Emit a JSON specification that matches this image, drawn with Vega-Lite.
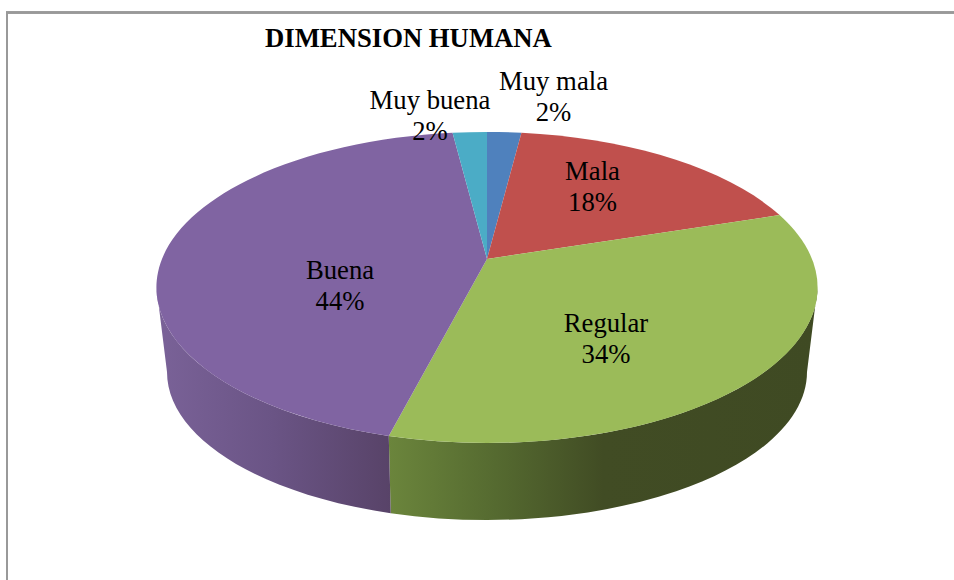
{
  "$schema": "https://vega.github.io/schema/vega-lite/v6.json",
  "width": 954,
  "height": 580,
  "autosize": "none",
  "padding": 0,
  "background": "white",
  "view": {"stroke": null},
  "title": {
    "text": "DIMENSION HUMANA",
    "anchor": "start",
    "frame": "group",
    "font": "Liberation Serif",
    "fontSize": 26.7,
    "fontWeight": "bold",
    "color": "black",
    "baseline": "alphabetic",
    "offset": 0,
    "dx": 265,
    "dy": 74
  },
  "data": {
    "values": [
      {"orden": 1, "categoria": "Muy mala", "valor": 2},
      {"orden": 2, "categoria": "Mala", "valor": 18},
      {"orden": 3, "categoria": "Regular", "valor": 34},
      {"orden": 4, "categoria": "Buena", "valor": 44},
      {"orden": 5, "categoria": "Muy buena", "valor": 2}
    ]
  },
  "transform": [
    {"window": [{"op": "sum", "field": "valor", "as": "fin"}], "sort": [{"field": "orden", "order": "ascending"}]},
    {"joinaggregate": [{"op": "sum", "field": "valor", "as": "total"}]},
    {"calculate": "2*PI*(datum.fin-datum.valor)/datum.total", "as": "a0"},
    {"calculate": "2*PI*datum.fin/datum.total", "as": "a1"},
    {"calculate": "round(100*(10+325*sin(datum.a0)/(1+0.183*cos(datum.a0))))/100", "as": "x0"},
    {"calculate": "round(100*(-31-150.3*cos(datum.a0)/(1+0.183*cos(datum.a0))))/100", "as": "y0"},
    {"calculate": "round(100*(10+325*sin(datum.a1)/(1+0.183*cos(datum.a1))))/100", "as": "x1"},
    {"calculate": "round(100*(-31-150.3*cos(datum.a1)/(1+0.183*cos(datum.a1))))/100", "as": "y1"},
    {"calculate": "round(100*(10+(datum.x0-10)*0.98))/100", "as": "bx0"},
    {"calculate": "round(100*(82+148*sqrt(max(0,1-pow((datum.bx0-10)/320,2)))))/100", "as": "by0"},
    {"calculate": "round(100*(10+(datum.x1-10)*0.98))/100", "as": "bx1"},
    {"calculate": "round(100*(82+148*sqrt(max(0,1-pow((datum.bx1-10)/320,2)))))/100", "as": "by1"},
    {"calculate": "'M10,-31 L'+datum.x0+','+datum.y0+' A330.5,155.5 0 0 1 '+datum.x1+','+datum.y1+' Z'", "as": "cara"},
    {"calculate": "'M340.5,-2.5 A330.5,155.5 0 0 1 '+datum.x1+','+datum.y1+' L'+datum.bx1+','+datum.by1+' A320,148 0 0 0 330,82 Z'", "as": "paredDerecha"},
    {"calculate": "'M'+datum.x0+','+datum.y0+' A330.5,155.5 0 0 1 -320.5,-2.5 L-310,82 A320,148 0 0 0 '+datum.bx0+','+datum.by0+' Z'", "as": "paredIzquierda"},
    {"calculate": "datum.categoria+'\\n'+datum.valor+'%'", "as": "etiqueta"}
  ],
  "layer": [
    {
      "mark": {"type": "rect", "fill": null, "stroke": "#999999", "strokeWidth": 2},
      "encoding": {
        "x": {"value": 7},
        "x2": {"value": 970},
        "y": {"value": 12.5},
        "y2": {"value": 600}
      }
    },
    {
      "transform": [{"filter": "datum.categoria==='Regular'"}],
      "mark": {
        "type": "point",
        "filled": true,
        "opacity": 1,
        "size": 4,
        "strokeWidth": 0,
        "fill": {
          "gradient": "linear", "x1": 0, "y1": 0, "x2": 1, "y2": 0,
          "stops": [
            {"offset": 0, "color": "#6b853c"},
            {"offset": 0.25, "color": "#556a30"},
            {"offset": 0.5, "color": "#414c24"},
            {"offset": 1, "color": "#3f4a23"}
          ]
        }
      },
      "encoding": {"shape": {"field": "paredDerecha", "type": "nominal", "scale": null, "legend": null}}
    },
    {
      "transform": [{"filter": "datum.categoria==='Buena'"}],
      "mark": {
        "type": "point",
        "filled": true,
        "opacity": 1,
        "size": 4,
        "strokeWidth": 0,
        "fill": {
          "gradient": "linear", "x1": 0, "y1": 0, "x2": 1, "y2": 0,
          "stops": [
            {"offset": 0, "color": "#7a6298"},
            {"offset": 0.5, "color": "#6a5485"},
            {"offset": 1, "color": "#584368"}
          ]
        }
      },
      "encoding": {"shape": {"field": "paredIzquierda", "type": "nominal", "scale": null, "legend": null}}
    },
    {
      "mark": {"type": "point", "filled": true, "opacity": 1, "size": 4, "strokeWidth": 0},
      "encoding": {
        "shape": {"field": "cara", "type": "nominal", "scale": null, "legend": null},
        "color": {
          "field": "categoria",
          "type": "nominal",
          "legend": null,
          "scale": {
            "domain": ["Muy mala", "Mala", "Regular", "Buena", "Muy buena"],
            "range": ["#4f81bd", "#c0504d", "#9bbb59", "#8064a2", "#4bacc6"]
          }
        }
      }
    },
    {
      "mark": {
        "type": "text",
        "font": "Liberation Serif",
        "fontSize": 26.7,
        "lineBreak": "\n",
        "lineHeight": 31,
        "align": "center",
        "baseline": "alphabetic",
        "color": "black"
      },
      "encoding": {
        "text": {"field": "etiqueta"},
        "x": {
          "field": "orden",
          "type": "quantitative",
          "axis": null,
          "scale": {"domain": [1, 2, 3, 4, 5], "range": [553.5, 592.5, 606, 340, 430], "nice": false, "zero": false}
        },
        "y": {
          "field": "orden",
          "type": "quantitative",
          "axis": null,
          "scale": {"domain": [1, 2, 3, 4, 5], "range": [90, 180, 332, 279, 109], "nice": false, "zero": false}
        }
      }
    }
  ]
}
